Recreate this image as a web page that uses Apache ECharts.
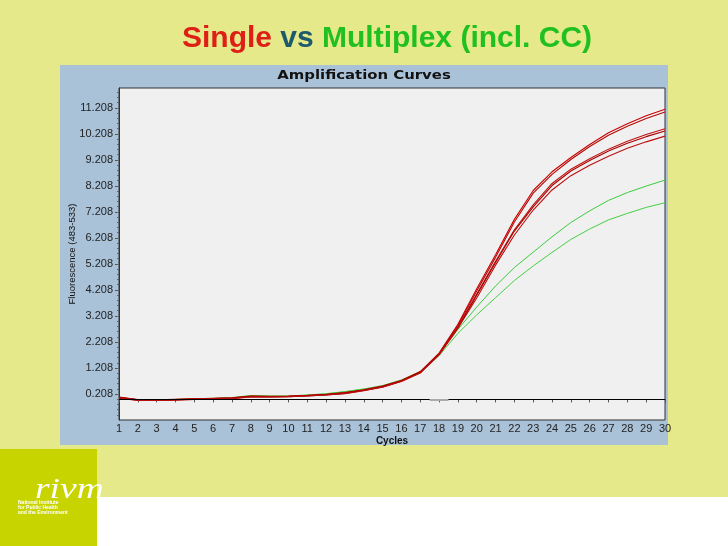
<!DOCTYPE html>
<html>
<head>
<meta charset="utf-8">
<script src="https://cdn.jsdelivr.net/npm/echarts/dist/echarts.min.js"></script>
<style>
html,body{margin:0;padding:0;background:#e5e98a;}
#c{width:728px;height:546px;}
</style>
</head>
<body>
<div id="c"></div>
<script>
// ---- data ----
const cycles = [1,2,3,4,5,6,7,8,9,10,11,12,13,14,15,16,17,18,19,20,21,22,23,24,25,26,27,28,29,30];
const red1 = [0.09,-0.01,-0.02,0.00,0.02,0.04,0.06,0.13,0.12,0.13,0.16,0.20,0.26,0.37,0.51,0.73,1.07,1.78,2.89,4.25,5.56,6.92,8.03,8.75,9.30,9.80,10.25,10.60,10.90,11.15];
const red2 = [0.07,-0.02,-0.03,-0.01,0.01,0.03,0.05,0.11,0.10,0.11,0.14,0.18,0.24,0.35,0.49,0.71,1.04,1.75,2.84,4.17,5.46,6.82,7.93,8.65,9.22,9.72,10.15,10.50,10.80,11.05];
const red3 = [0.06,-0.03,-0.04,-0.02,0.00,0.02,0.04,0.10,0.09,0.10,0.13,0.17,0.23,0.34,0.48,0.70,1.02,1.73,2.79,4.05,5.31,6.52,7.48,8.30,8.85,9.25,9.62,9.92,10.18,10.40];
const red4 = [0.08,-0.02,-0.03,-0.01,0.01,0.03,0.05,0.12,0.11,0.12,0.15,0.19,0.25,0.36,0.50,0.72,1.05,1.73,2.74,4.00,5.26,6.47,7.40,8.22,8.78,9.18,9.55,9.85,10.10,10.32];
const red5 = [0.05,-0.04,-0.04,-0.02,0.00,0.02,0.03,0.09,0.09,0.10,0.13,0.17,0.22,0.33,0.47,0.69,1.01,1.71,2.74,3.90,5.16,6.32,7.28,8.05,8.60,9.00,9.35,9.65,9.90,10.12];
const green1 = [0.07,-0.01,-0.02,0.00,0.02,0.04,0.07,0.15,0.13,0.13,0.17,0.22,0.30,0.40,0.53,0.75,1.07,1.75,2.69,3.55,4.36,5.07,5.66,6.25,6.80,7.25,7.65,7.95,8.20,8.43];
const green2 = [0.06,-0.02,-0.03,-0.01,0.01,0.03,0.06,0.14,0.12,0.12,0.16,0.21,0.29,0.39,0.52,0.73,1.04,1.68,2.54,3.25,3.91,4.57,5.13,5.65,6.15,6.55,6.90,7.15,7.38,7.56];
const yTickLabels = [0.208,1.208,2.208,3.208,4.208,5.208,6.208,7.208,8.208,9.208,10.208,11.208];
const thresholdValue = 0;

const redColors = ['#cc0000','#b40808','#c01010','#a80000','#b81010'];
const greenColors = ['#3ccc3c','#44d044'];

function pairs(arr){ return cycles.map((c,i)=>[c,arr[i]]); }
const yMin = -0.792, yMax = 11.97;
const minorTicks = [];
for (let k=-5;k<=60;k++){ const v = +(0.208 + k*0.2).toFixed(3); if (v>yMin+0.01 && v<yMax) minorTicks.push(v); }

const lineBase = {type:'line', showSymbol:false, smooth:false, silent:true, z:3};
const series = [];
[green1,green2].forEach((d,i)=>series.push(Object.assign({}, lineBase, {name:'Multiplex '+(i+1), data:pairs(d), lineStyle:{color:greenColors[i],width:1}, itemStyle:{color:greenColors[i]}})));
[red1,red2,red3,red4,red5].forEach((d,i)=>series.push(Object.assign({}, lineBase, {name:'Single '+(i+1), data:pairs(d), lineStyle:{color:redColors[i],width:1.1}, itemStyle:{color:redColors[i]}})));
series[0].markLine = {silent:true, symbol:['none','none'], label:{show:false},
  data:[
    [{coord:[1,thresholdValue],lineStyle:{color:'#000',width:1,type:'solid'}},{coord:[30,thresholdValue]}],
    [{coord:[17.5,thresholdValue],lineStyle:{color:'#aaaaaa',width:2,type:'solid'}},{coord:[18.5,thresholdValue]}]
  ]};

const chart = echarts.init(document.getElementById('c'), null, {renderer:'canvas'});
const titleFont = {fontFamily:'Liberation Sans',fontSize:30,fontWeight:'bold'};
chart.setOption({
  backgroundColor:'#e5e98a',
  animation:false,
  title:{
    text:'{r|Single} {b|vs} {g|Multiplex (incl. CC)}',
    left:177, top:19,
    textStyle:Object.assign({}, titleFont, {
      rich:{
        r:Object.assign({color:'#dd1f16'}, titleFont),
        b:Object.assign({color:'#1d5a6b'}, titleFont),
        g:Object.assign({color:'#20c020'}, titleFont)
      }})
  },
  graphic:[
    {type:'rect', z:-10, shape:{x:60,y:65,width:608,height:380}, style:{fill:'#aac2d8'}, silent:true},
    {type:'rect', z:-10, shape:{x:0,y:449,width:97,height:97}, style:{fill:'#c8d400'}, silent:true},
    {type:'rect', z:-10, shape:{x:97,y:497,width:631,height:49}, style:{fill:'#ffffff'}, silent:true},
    {type:'text', z:5, x:364, y:76, style:{text:'Amplification Curves', font:'bold 12px "DejaVu Sans"', fill:'#111', align:'center', verticalAlign:'middle'}, scaleX:1.24, silent:true},
    {type:'text', z:5, x:35, y:505, style:{text:'rivm', font:'italic 30px "Liberation Serif"', fill:'#ffffff', align:'left', verticalAlign:'bottom'}, scaleX:1.25, silent:true},
    {type:'text', z:5, x:18, y:503, style:{text:'National Institute', font:'bold 5px "Liberation Sans"', fill:'#ffffff', align:'left', verticalAlign:'middle'}, silent:true},
    {type:'text', z:5, x:18, y:508, style:{text:'for Public Health', font:'bold 5px "Liberation Sans"', fill:'#ffffff', align:'left', verticalAlign:'middle'}, silent:true},
    {type:'text', z:5, x:18, y:513, style:{text:'and the Environment', font:'bold 5px "Liberation Sans"', fill:'#ffffff', align:'left', verticalAlign:'middle'}, silent:true}
  ],
  grid:{left:119, top:88, width:546, height:332, show:true, backgroundColor:'#f0f0f0', borderColor:'#333', borderWidth:1, containLabel:false},
  xAxis:{type:'value', min:1, max:30, interval:1,
    name:'Cycles', nameLocation:'middle', nameGap:16, nameMoveOverlap:false,
    nameTextStyle:{fontFamily:'Liberation Sans', fontWeight:'bold', fontSize:10, color:'#111'},
    axisLine:{show:true, lineStyle:{color:'#333'}},
    axisTick:{show:true, length:3, lineStyle:{color:'#555'}},
    axisLabel:{fontFamily:'Liberation Sans', fontSize:11, color:'#222', margin:3},
    splitLine:{show:false}},
  yAxis:[
    {type:'value', min:yMin, max:yMax, position:'left',
     name:'Fluorescence (483-533)', nameLocation:'middle', nameRotate:90, nameGap:42, nameMoveOverlap:false,
     nameTextStyle:{fontFamily:'Liberation Sans', fontSize:9.5, color:'#111'},
     axisLine:{show:true, lineStyle:{color:'#333'}},
     axisTick:{show:true, length:4, customValues:yTickLabels, lineStyle:{color:'#555'}},
     axisLabel:{customValues:yTickLabels, formatter:v=>v.toFixed(3), fontFamily:'Liberation Sans', fontSize:11, color:'#222', margin:6},
     splitLine:{show:false}},
    {type:'value', min:yMin, max:yMax, position:'left',
     axisLine:{show:false},
     axisTick:{show:true, length:2, customValues:minorTicks, lineStyle:{color:'#666'}},
     axisLabel:{show:false},
     splitLine:{show:false}}
  ],
  series:series
});
</script>
</body>
</html>
